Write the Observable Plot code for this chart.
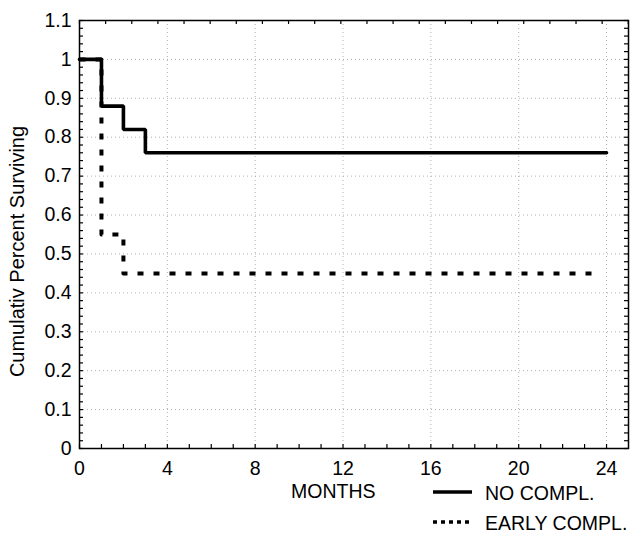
<!DOCTYPE html>
<html>
<head>
<meta charset="utf-8">
<script src="https://cdn.jsdelivr.net/npm/d3@7"></script>
<script src="https://cdn.jsdelivr.net/npm/@observablehq/plot@0.6"></script>
<style>
  body { margin: 0; background: #fff; }
  #wrap { width: 634px; height: 533px; position: relative; font-family: "Liberation Sans", Arial, sans-serif; }
  svg { display: block; }
</style>
</head>
<body>
<div id="wrap"></div>
<script>
// ---- data ----
const noComplMonths = [0, 1, 2, 3, 24];
const noComplSurv   = [1, 0.88, 0.82, 0.76, 0.76];
const earlyMonths   = [0, 1, 2, 23.7];
const earlySurv     = [1, 0.55, 0.45, 0.45];

const xTickLabels = [0, 4, 8, 12, 16, 20, 24];
const yTickLabels = [0, 0.1, 0.2, 0.3, 0.4, 0.5, 0.6, 0.7, 0.8, 0.9, 1, 1.1];
const xMinorTicks = d3.range(0, 25, 1);
const yMinorTicks = d3.range(0, 56).map(i => i / 50);
const topTickStep = 1.19;
const topTicks = d3.range(0, 25, topTickStep);

const yLabel = "Cumulativ Percent Surviving";
const xLabel = "MONTHS";
const seriesNames = ["NO COMPL.", "EARLY COMPL."];

const noCompl = noComplMonths.map((m, i) => ({m, s: noComplSurv[i]}));
const early = earlyMonths.map((m, i) => ({m, s: earlySurv[i]}));

const W = 634, H = 480;
const mL = 79, mR = 6, mT = 20, mB = 32;
const innerW = W - mL - mR, innerH = H - mT - mB;
const tickLen = 4;

const chart = Plot.plot({
  width: W,
  height: H,
  marginLeft: mL,
  marginRight: mR,
  marginTop: mT,
  marginBottom: mB,
  style: {fontFamily: '"Liberation Sans", Arial, sans-serif', fontSize: "19px", background: "#fff", color: "#000"},
  x: {domain: [0, 25]},
  y: {domain: [0, 1.1]},
  marks: [
    // grid
    Plot.ruleX(xTickLabels.filter(d => d > 0), {stroke: "#b0b0b0", strokeWidth: 1, strokeDasharray: "1,3"}),
    Plot.ruleY(yTickLabels.filter(d => d > 0 && d < 1.1), {stroke: "#b0b0b0", strokeWidth: 1, strokeDasharray: "1,3"}),
    // inward minor ticks
    Plot.tickX(xMinorTicks, {x: d => d, insetTop: innerH - tickLen, stroke: "#000", strokeWidth: 1.2}),
    Plot.tickX(topTicks, {x: d => d, insetBottom: innerH - tickLen, stroke: "#000", strokeWidth: 1.2}),
    Plot.tickY(yMinorTicks, {y: d => d, insetRight: innerW - tickLen, stroke: "#000", strokeWidth: 1.2}),
    Plot.tickY(yMinorTicks, {y: d => d, insetLeft: innerW - tickLen, stroke: "#000", strokeWidth: 1.2}),
    // axes
    Plot.axisX(xTickLabels, {tickSize: 0, tickPadding: 13, label: null, fontSize: 19.5}),
    Plot.axisY(yTickLabels, {tickSize: 0, tickPadding: 8, label: null, fontSize: 19.5, tickFormat: d => String(+d.toFixed(1))}),
    Plot.frame({stroke: "#000", strokeWidth: 1.5}),
    // series
    Plot.line(early, {x: "m", y: "s", curve: "step-after", stroke: "#000", strokeWidth: 4, strokeDasharray: "6,10", strokeLinecap: "butt"}),
    Plot.line(noCompl, {x: "m", y: "s", curve: "step-after", stroke: "#000", strokeWidth: 3.6, strokeLinejoin: "miter"}),
    // y label
    Plot.text([yLabel], {frameAnchor: "left", textAnchor: "middle", lineAnchor: "middle", text: d => d, rotate: -90, dx: -62, dy: 17, fontSize: 20, fill: "#000"})
  ]
});

const wrap = document.getElementById("wrap");
wrap.appendChild(chart);

// legend below the chart
const leg = d3.create("svg").attr("width", W).attr("height", 533 - H)
  .style("font-family", '"Liberation Sans", Arial, sans-serif').style("font-size", "19.5px");
leg.append("text").attr("x", 291).attr("y", 18).text(xLabel);
leg.append("line").attr("x1", 433).attr("x2", 472).attr("y1", 12).attr("y2", 12)
  .attr("stroke", "#000").attr("stroke-width", 3.5);
leg.append("text").attr("x", 485).attr("y", 20).text(seriesNames[0]);
leg.append("line").attr("x1", 433).attr("x2", 473).attr("y1", 42).attr("y2", 42)
  .attr("stroke", "#000").attr("stroke-width", 3.5).attr("stroke-dasharray", "4,4");
leg.append("text").attr("x", 485).attr("y", 50).text(seriesNames[1]);
wrap.appendChild(leg.node());
</script>
</body>
</html>
